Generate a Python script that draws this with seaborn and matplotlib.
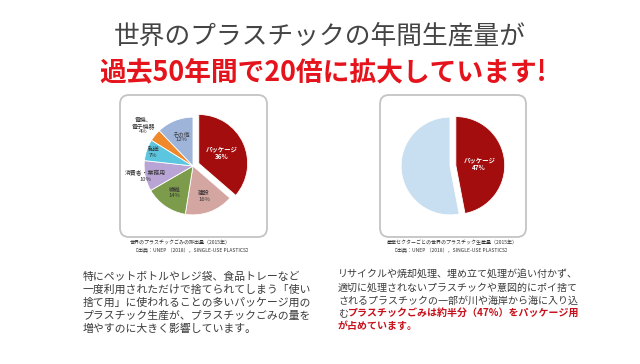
import numpy as np
import matplotlib
matplotlib.use("Agg")
import matplotlib.pyplot as plt
from matplotlib.patches import FancyBboxPatch
import seaborn as sns

# data
waste_labels = ["パッケージ", "建設", "繊維", "消費者・業務用", "輸送", "電機、\n電子機器", "その他"]
waste_share = [36, 16, 14, 10, 7, 4, 12]
waste_colors = ["#a30d0d", "#d4a6a1", "#7c9b4b", "#b9a4d6", "#5cc6e0", "#f0892c", "#9fb4d9"]

prod_labels = ["パッケージ", "その他"]
prod_share = [47, 53]
prod_colors = ["#a30d0d", "#c7dff0"]

title1 = "世界のプラスチックの年間生産量が"
title2 = "過去50年間で20倍に拡大しています!"
cap_left = ["世界のプラスチックごみの排出量（2015年）", "［出典：UNEP （2018），SINGLE-USE PLASTICS］"]
cap_right = ["産業セクターごとの世界のプラスチック生産量（2015年）", "［出典：UNEP （2018），SINGLE-USE PLASTICS］"]
text_left = ["特にペットボトルやレジ袋、食品トレーなど",
             "一度利用されただけで捨てられてしまう「使い",
             "捨て用」に使われることの多いパッケージ用の",
             "プラスチック生産が、プラスチックごみの量を",
             "増やすのに大きく影響しています。"]
text_right = ["リサイクルや焼却処理、埋め立て処理が追い付かず、",
              "適切に処理されないプラスチックや意図的にポイ捨て",
              "されるプラスチックの一部が川や海岸から海に入り込"]
red_right = ["プラスチックごみは約半分（47%）をパッケージ用", "が占めています。"]

sns.set_theme(style="white")
plt.rcParams['font.family'] = ['Noto Sans CJK JP', 'DejaVu Sans']

W, H = 640, 364
fig = plt.figure(figsize=(W / 100, H / 100), dpi=100)
fig.patch.set_facecolor("white")

# full-figure overlay in pixel coords
bg = fig.add_axes([0, 0, 1, 1])
bg.set_xlim(0, W)
bg.set_ylim(H, 0)
bg.axis("off")

gray = "#444444"
red = "#e5141c"
dred = "#c8101a"

bg.text(320, 36, title1, ha="center", va="center", fontsize=18.5, color=gray)
bg.text(323, 72, title2, ha="center", va="center", fontsize=19.3, color=red, fontweight="bold")

for x0, x1 in [(120, 267), (380, 526)]:
    bg.add_patch(FancyBboxPatch((x0, 95), x1 - x0, 142,
                                boxstyle="round,pad=0,rounding_size=9",
                                fc="white", ec="#c4c4c4", lw=1.3))

bg.text(130, 243, cap_left[0], ha="left", va="center", fontsize=3.6, color="#333333")
bg.text(133, 250, cap_left[1], ha="left", va="center", fontsize=3.6, color="#333333")
bg.text(452, 243, cap_right[0], ha="center", va="center", fontsize=3.6, color="#333333")
bg.text(451, 250, cap_right[1], ha="center", va="center", fontsize=3.6, color="#333333")

for i, line in enumerate(text_left):
    bg.text(83, 277 + 13 * i, line, ha="left", va="center", fontsize=7.8, color="#3a3a3a")

for i, line in enumerate(text_right):
    bg.text(338, 275 + 12.7 * i, line, ha="left", va="center", fontsize=7.2, color="#3a3a3a")
mu = bg.text(338, 275 + 12.7 * 3, "む", ha="left", va="center", fontsize=7.2, color="#3a3a3a")
bg.annotate(red_right[0], xy=(1, 0.5), xycoords=mu, ha="left", va="center",
            fontsize=7.2, color=dred, fontweight="bold")
bg.text(338, 275 + 12.7 * 4, red_right[1], ha="left", va="center", fontsize=7.2,
        color=dred, fontweight="bold")


def pie_axes(cx, cy, r, span=1.3):
    s = r * span
    ax = fig.add_axes([(cx - s) / W, (H - cy - s) / H, 2 * s / W, 2 * s / H])
    ax.set_xlim(-span, span)
    ax.set_ylim(-span, span)
    ax.set_aspect("equal")
    ax.axis("off")
    ax.patch.set_alpha(0)
    return ax


# left pie
ax1 = pie_axes(193, 166, 47)
explode = [0.13] + [0] * (len(waste_share) - 1)
wedges, _ = ax1.pie(waste_share, colors=waste_colors, startangle=90, counterclock=False,
                    explode=explode, wedgeprops=dict(edgecolor="white", linewidth=0.6))
dists = [0.64, 0.66, 0.67, 1.0, 0.86, 1.3, 0.65]
for w, lab, val, d in zip(wedges, waste_labels, waste_share, dists):
    ang = np.deg2rad((w.theta1 + w.theta2) / 2)
    x, y = d * np.cos(ang), d * np.sin(ang)
    first = lab == waste_labels[0]
    ax1.text(x, y, f"{lab}\n{val}%", ha="center", va="center",
             fontsize=4.6 if first else 4.2, color="white" if first else "#333333",
             fontweight="bold" if first else "normal", linespacing=1.1)

# right pie
ax2 = pie_axes(450, 166, 47)
wedges2, _ = ax2.pie(prod_share, colors=prod_colors, startangle=90, counterclock=False,
                     explode=[0.12, 0], wedgeprops=dict(edgecolor="white", linewidth=0.6))
w = wedges2[0]
ang = np.deg2rad((w.theta1 + w.theta2) / 2)
ax2.text(0.6 * np.cos(ang), 0.6 * np.sin(ang), f"{prod_labels[0]}\n{prod_share[0]}%",
         ha="center", va="center", fontsize=4.6, color="white", fontweight="bold",
         linespacing=1.1)

fig.savefig("out.png", dpi=100)
